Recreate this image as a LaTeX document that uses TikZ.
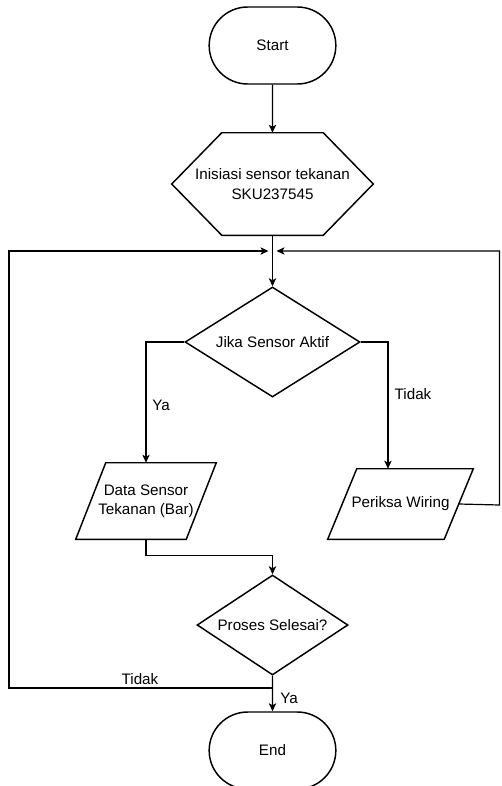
\documentclass[tikz,border=0pt]{standalone}
\usepackage{fontspec}
\setmainfont{Liberation Sans}
\usetikzlibrary{arrows.meta,positioning,shapes.geometric,shapes.misc}
\tikzset{
  terminal/.style={
    rounded rectangle, draw, line width=1.1pt,
    minimum width=95pt, minimum height=57.75pt, inner sep=0pt
  },
  decision/.style={diamond, draw, line width=1.1pt, inner sep=0pt, aspect=1.6},
  plain box/.style={rectangle, draw=none, align=center, inner sep=0pt},
  outline/.style={line width=1.1pt, line join=miter},
  flow/.style={-{Stealth[length=6pt,width=5.5pt,inset=1.5pt]}, line width=0.9pt},
  tag/.style={inner sep=0pt}
}
\newcommand\hexframe[2]{\draw[outline] (#1.west) -- ([xshift=#2]#1.north west)
  -- ([xshift=-#2]#1.north east) -- (#1.east) -- ([xshift=-#2]#1.south east)
  -- ([xshift=#2]#1.south west) -- cycle;}
\newcommand\ioframe[2]{\draw[outline] ([xshift=-#2]#1.south west)
  -- ([xshift=#2]#1.north west) -- ([xshift=#2]#1.north east)
  -- ([xshift=-#2]#1.south east) -- cycle;}
\begin{document}
\begin{tikzpicture}[x=0.75pt, y=-0.75pt, font=\fontsize{11.4}{14.5}\selectfont]
  \useasboundingbox (0,0) rectangle (501,786);
  % shapes
  \node[terminal] (start) at (272.5,45.5) {Start};
  \node[plain box, minimum width=150.75pt, minimum height=76.5pt] (init) at (272.5,184)
    {Inisiasi sensor tekanan\\SKU237545};
  \hexframe{init}{37.5pt}
  \node[decision, minimum width=131.25pt, minimum height=82.5pt] (cek) at (272.5,342)
    {Jika Sensor Aktif};
  \node[plain box, minimum width=82.5pt, minimum height=57pt] (data) at (146,501)
    {Data Sensor\\Tekanan (Bar)};
  \ioframe{data}{11.25pt}
  \node[plain box, minimum width=87pt, minimum height=52.5pt] (wire) at (400.5,504)
    {Periksa Wiring};
  \ioframe{wire}{10.9pt}
  \node[decision, minimum width=113.25pt, minimum height=75pt] (sel) at (272.5,625)
    {Proses Selesai?};
  \node[terminal] (finish) at (272.5,750.5) {End};
  % loop points
  \coordinate (merge) at (272.5,251);
  \coordinate (loopL) at (9,688);
  \coordinate (loopR) at (499.5,505);
  % connectors
  \draw[flow] (start) -- (init);
  \draw[flow] (init) -- (cek);
  \draw[flow] (cek.west) -| (data.north);
  \draw[flow] (cek.east) -| ([xshift=-9.4pt]wire.north);
  \draw[flow] (data.south) -- ++(0,16) -| (sel.north);
  \draw[flow] (wire.east) -- (loopR) |- ([xshift=3pt]merge);
  \draw[flow] (sel.south) |- (loopL) |- ([xshift=-3pt]merge);
  \draw[flow] (sel) -- (finish);
  % labels
  \node[tag] (yes1) at (161,405) {Ya};
  \node[tag] (no1) at (413,394) {Tidak};
  \node[tag] (no2) at (140,679) {Tidak};
  \node[tag] (yes2) at (289,698) {Ya};
\end{tikzpicture}
\end{document}
